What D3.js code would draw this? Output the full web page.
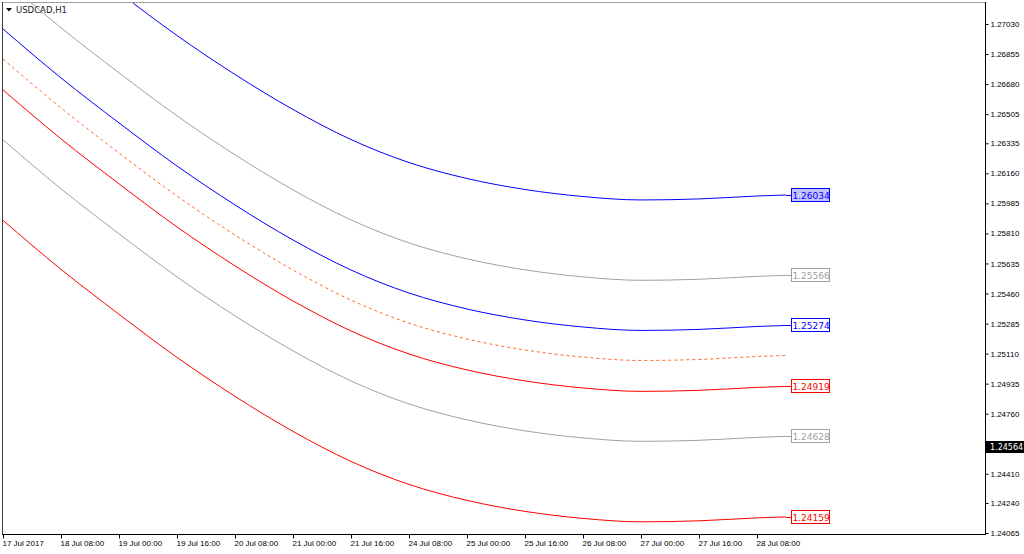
<!DOCTYPE html>
<html>
<head>
<meta charset="utf-8">
<script src="https://cdn.jsdelivr.net/npm/d3@7"></script>
<style>
    html, body { margin: 0; padding: 0; background: #fff; }
    svg { display: block; font-family: "DejaVu Sans", sans-serif; }
</style>
</head>
<body>
<div id="chart"></div>
<script>
// bar index (H1 bars from 17 Jul 2017 00:00) of each sampled point
const bars = [0, 16, 32, 48, 64, 80, 96, 112, 128, 144, 160, 176, 192, 208, 216];

// regression channel
const midLine = [1.26826, 1.26541, 1.26279, 1.26028, 1.25801, 1.25597, 1.25422, 1.25288, 1.25195, 1.25131, 1.25090, 1.25070, 1.25076, 1.25093, 1.25099];
const upper2 = [1.27761, 1.27476, 1.27214, 1.26963, 1.26736, 1.26532, 1.26357, 1.26223, 1.26130, 1.26066, 1.26025, 1.26005, 1.26011, 1.26028, 1.26034];
const upper1 = [1.27293, 1.27008, 1.26746, 1.26495, 1.26268, 1.26064, 1.25889, 1.25755, 1.25662, 1.25598, 1.25557, 1.25537, 1.25543, 1.25560, 1.25566];
const upper0 = [1.27001, 1.26716, 1.26454, 1.26203, 1.25976, 1.25772, 1.25597, 1.25463, 1.25370, 1.25306, 1.25265, 1.25245, 1.25251, 1.25268, 1.25274];
const lower0 = [1.26646, 1.26361, 1.26099, 1.25848, 1.25621, 1.25417, 1.25242, 1.25108, 1.25015, 1.24951, 1.24910, 1.24890, 1.24896, 1.24913, 1.24919];
const lower1 = [1.26355, 1.26070, 1.25808, 1.25557, 1.25330, 1.25126, 1.24951, 1.24817, 1.24724, 1.24660, 1.24619, 1.24599, 1.24605, 1.24622, 1.24628];
const lower2 = [1.25886, 1.25601, 1.25339, 1.25088, 1.24861, 1.24657, 1.24482, 1.24348, 1.24255, 1.24191, 1.24150, 1.24130, 1.24136, 1.24153, 1.24159];

const priceTicks = ['1.27030', '1.26855', '1.26680', '1.26505', '1.26335', '1.26160', '1.25985', '1.25810', '1.25635',
    '1.25460', '1.25285', '1.25110', '1.24935', '1.24760', '1.24585', '1.24410', '1.24240', '1.24065'];
const timeTickBars = [0, 16, 32, 48, 64, 80, 96, 112, 128, 144, 160, 176, 192, 208];
const timeTicks = ['17 Jul 2017', '18 Jul 08:00', '19 Jul 00:00', '19 Jul 16:00', '20 Jul 08:00', '21 Jul 00:00', '21 Jul 16:00',
    '24 Jul 08:00', '25 Jul 00:00', '25 Jul 16:00', '26 Jul 08:00', '27 Jul 00:00', '27 Jul 16:00', '28 Jul 08:00'];

const symbol = 'USDCAD,H1';
const bidPrice = 1.24564;

const width = 1024;
const height = 554;
const plotLeft = 2, plotTop = 2, plotRight = 985, plotBottom = 534;

const x = d3.scaleLinear().domain([0, 16]).range([3, 61]);
const y = d3.scaleLinear().domain([1.24065, 1.27030]).range([533, 24]);

const series = [
    { values: upper2, color: '#0000ff', label: true, fill: '#c4c4ff' },
    { values: upper1, color: '#a0a0a0', label: true },
    { values: upper0, color: '#0000ff', label: true },
    { values: midLine, color: '#ff6a2a', dash: '3,3' },
    { values: lower0, color: '#ff0000', label: true },
    { values: lower1, color: '#a0a0a0', label: true },
    { values: lower2, color: '#ff0000', label: true }
];

const svg = d3.select('#chart').append('svg')
    .attr('width', width)
    .attr('height', height);

svg.append('clipPath').attr('id', 'plot-clip')
    .append('rect')
    .attr('x', plotLeft + 1).attr('y', plotTop + 1)
    .attr('width', plotRight - plotLeft - 1).attr('height', plotBottom - plotTop - 1);

// frame
svg.append('line').attr('x1', plotLeft + 0.5).attr('x2', plotRight).attr('y1', plotTop + 0.5).attr('y2', plotTop + 0.5)
    .attr('stroke', '#a0a0a0');
svg.append('line').attr('x1', plotLeft + 0.5).attr('x2', plotLeft + 0.5).attr('y1', plotTop).attr('y2', plotBottom)
    .attr('stroke', '#404040');
svg.append('line').attr('x1', plotRight + 0.5).attr('x2', plotRight + 0.5).attr('y1', plotTop).attr('y2', plotBottom + 1)
    .attr('stroke', '#000');
svg.append('line').attr('x1', plotLeft).attr('x2', plotRight + 1).attr('y1', plotBottom + 0.5).attr('y2', plotBottom + 0.5)
    .attr('stroke', '#000');

const line = d3.line()
    .x((d, i) => x(bars[i]))
    .y(d => y(d))
    .curve(d3.curveMonotoneX);

const plot = svg.append('g').attr('clip-path', 'url(#plot-clip)');

plot.selectAll('path.channel')
    .data(series)
    .join('path')
    .attr('class', 'channel')
    .attr('fill', 'none')
    .attr('stroke', d => d.color)
    .attr('stroke-width', 1)
    .attr('stroke-dasharray', d => d.dash || null)
    .attr('d', d => line(d.values));

// value tags at the end of each channel line
const lastBar = bars[bars.length - 1];
const tags = svg.append('g')
    .selectAll('g')
    .data(series.filter(d => d.label))
    .join('g')
    .attr('transform', d => `translate(${x(lastBar) + 5},${Math.round(y(d.values[d.values.length - 1]))})`);

tags.append('line')
    .attr('x1', -5).attr('x2', 0).attr('y1', 0.5).attr('y2', 0.5)
    .attr('stroke', d => d.color);

tags.append('rect')
    .attr('x', 0.5).attr('y', -6.5)
    .attr('width', 38).attr('height', 13)
    .attr('fill', d => d.fill || '#fff')
    .attr('stroke', d => d.color);

tags.append('text')
    .attr('x', 20).attr('y', 0.5)
    .attr('dy', '0.35em')
    .attr('text-anchor', 'middle')
    .style('font-size', '9px')
    .attr('fill', d => d.color)
    .text(d => d.values[d.values.length - 1].toFixed(5));

// price scale
const yAxis = d3.axisRight(y)
    .tickValues(priceTicks.map(Number))
    .tickFormat((d, i) => priceTicks[i])
    .tickSize(3)
    .tickPadding(2);

const yAxisG = svg.append('g')
    .attr('transform', `translate(${plotRight + 0.5},0)`)
    .call(yAxis);
yAxisG.select('.domain').remove();
yAxisG.selectAll('text').style('font-size', '8px').attr('fill', '#000');

// time scale
const xAxis = d3.axisBottom(x)
    .tickValues(timeTickBars)
    .tickFormat((d, i) => timeTicks[i])
    .tickSize(4)
    .tickPadding(2);

const xAxisG = svg.append('g')
    .attr('transform', `translate(0,${plotBottom + 0.5})`)
    .call(xAxis);
xAxisG.select('.domain').remove();
xAxisG.selectAll('text')
    .style('font-size', '8px')
    .attr('fill', '#000')
    .attr('text-anchor', 'start')
    .attr('dx', -1);

// current bid tag
const bid = svg.append('g')
    .attr('transform', `translate(${plotRight + 1},${Math.round(y(bidPrice))})`);
bid.append('rect')
    .attr('x', 0).attr('y', -6)
    .attr('width', width - plotRight - 1).attr('height', 12)
    .attr('fill', '#000');
bid.append('text')
    .attr('x', 4).attr('y', 0)
    .attr('dy', '0.35em')
    .style('font-size', '8px')
    .attr('fill', '#fff')
    .text(bidPrice.toFixed(5));

// symbol caption
svg.append('path')
    .attr('d', d3.line()([[6, 8], [12, 8], [9, 11.5]]) + 'Z')
    .attr('fill', '#000');
svg.append('text')
    .attr('x', 16).attr('y', 10)
    .attr('dy', '0.35em')
    .style('font-size', '8.5px')
    .attr('fill', '#222')
    .text(symbol);
</script>
</body>
</html>
